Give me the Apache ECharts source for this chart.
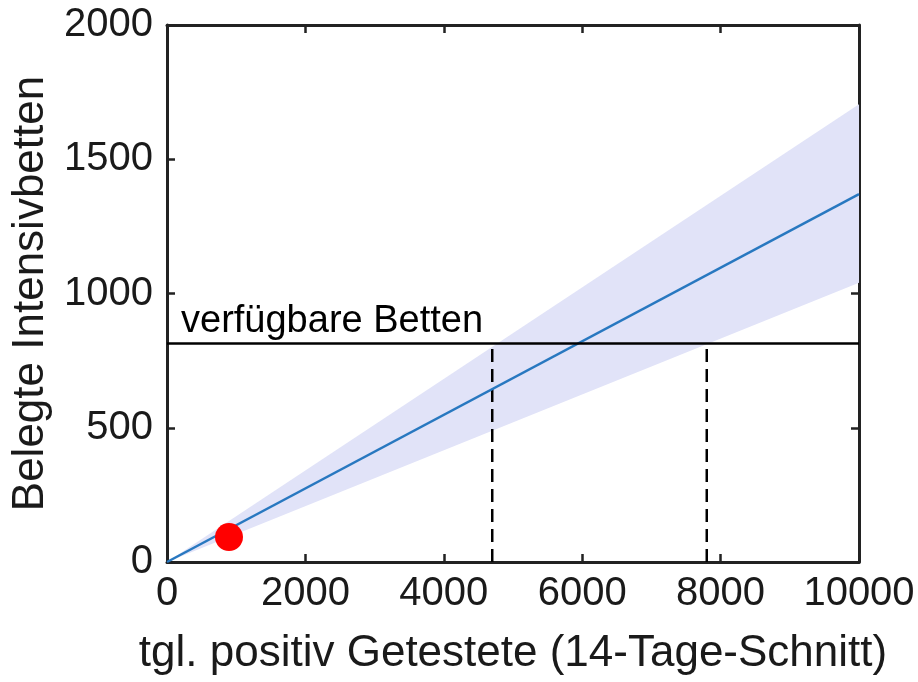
<!DOCTYPE html>
<html>
<head>
<meta charset="utf-8">
<script src="https://cdn.jsdelivr.net/npm/echarts@6/dist/echarts.min.js"></script>
<style>
  html, body { margin: 0; padding: 0; background: #fff; }
  #chart { width: 918px; height: 682px; }
</style>
</head>
<body>
<div id="chart"></div>
<script>
// values
var lineX = [0, 10000];
var lineY = [0, 1370];
var bandUpper = [0, 1705];
var bandLower = [0, 1040];
var bedsAvailable = 816;
var bedsLabel = 'verfügbare Betten';
var dashX = [4700, 7800];
var currentPoint = [896, 93];
var xTicks = [0, 2000, 4000, 6000, 8000, 10000];
var yTicks = [0, 500, 1000, 1500, 2000];

var chart = document.getElementById('chart');
var myChart = echarts.init(chart);

var fontName = '"Liberation Sans", Arial, sans-serif';
var tickFs = 40;
var titleFs = 44;
var ink = '#1a1a1a';

var linePts = lineX.map(function (x, i) { return [x, lineY[i]]; });
var bandPts = lineX.map(function (x, i) { return [x, bandUpper[i], bandLower[i]]; });

var dashSeries = dashX.map(function (x) {
  return {
    type: 'line',
    data: [[x, 0], [x, bedsAvailable]],
    symbol: 'none',
    lineStyle: { color: '#000', width: 2.5, type: [13, 7] },
    z: 3,
    silent: true
  };
});

// onZero off, otherwise the top/right axes get pulled to the zero lines
var axisLine = { show: true, onZero: false, lineStyle: { color: '#222', width: 3 } };
var axisTick = { show: true, inside: true, length: 8, lineStyle: { color: '#222', width: 2.5 } };

var mirrorAxis = {
  axisLabel: { show: false },
  axisLine: axisLine,
  splitLine: { show: false },
  axisTick: axisTick
};

option = {
  animation: false,
  backgroundColor: '#fff',
  grid: { left: 167, top: 25, right: 59, bottom: 120 },
  xAxis: [
    {
      type: 'value', min: 0, max: 10000, interval: 2000,
      name: 'tgl. positiv Getestete (14-Tage-Schnitt)',
      nameLocation: 'middle', nameGap: 70,
      nameTextStyle: { fontSize: titleFs, color: ink, fontFamily: fontName },
      axisLine: axisLine,
      splitLine: { show: false },
      axisTick: axisTick,
      axisLabel: { fontSize: tickFs, color: ink, fontFamily: fontName, margin: 12,
        formatter: function (v) { return xTicks.indexOf(v) >= 0 ? String(v) : ''; } }
    },
    Object.assign({ type: 'value', min: 0, max: 10000, interval: 2000, position: 'top' }, mirrorAxis)
  ],
  yAxis: [
    {
      type: 'value', min: 0, max: 2000, interval: 500,
      name: 'Belegte Intensivbetten',
      nameLocation: 'middle', nameGap: 112,
      nameTextStyle: { fontSize: titleFs, color: ink, fontFamily: fontName },
      axisLine: axisLine,
      splitLine: { show: false },
      axisTick: axisTick,
      axisLabel: { fontSize: tickFs, color: ink, fontFamily: fontName, margin: 14,
        formatter: function (v) { return yTicks.indexOf(v) >= 0 ? String(v) : ''; } }
    },
    Object.assign({ type: 'value', min: 0, max: 2000, interval: 500, position: 'right' }, mirrorAxis)
  ],
  series: [
    {
      type: 'custom',
      data: bandPts,
      z: 1,
      silent: true,
      renderItem: function (params, api) {
        if (params.dataIndex !== 0) return;
        var up = [], lo = [];
        bandPts.forEach(function (p) {
          up.push(api.coord([p[0], p[1]]));
          lo.unshift(api.coord([p[0], p[2]]));
        });
        return {
          type: 'polygon',
          shape: { points: up.concat(lo) },
          style: { fill: '#e1e3f8', stroke: null }
        };
      }
    },
    {
      type: 'line',
      data: linePts,
      symbol: 'none',
      lineStyle: { color: '#2878c0', width: 2.5 },
      z: 4,
      markLine: {
        silent: true,
        symbol: 'none',
        lineStyle: { color: '#000', width: 2.5, type: 'solid' },
        label: {
          show: true, position: 'insideStartTop', formatter: bedsLabel,
          fontSize: 38, color: '#000', fontFamily: fontName, distance: [14, 2]
        },
        data: [{ yAxis: bedsAvailable }]
      }
    }
  ].concat(dashSeries).concat([
    {
      type: 'scatter',
      data: [currentPoint],
      symbolSize: 28,
      itemStyle: { color: '#ff0000', opacity: 1 },
      z: 5
    }
  ])
};

myChart.setOption(option);
</script>
</body>
</html>
